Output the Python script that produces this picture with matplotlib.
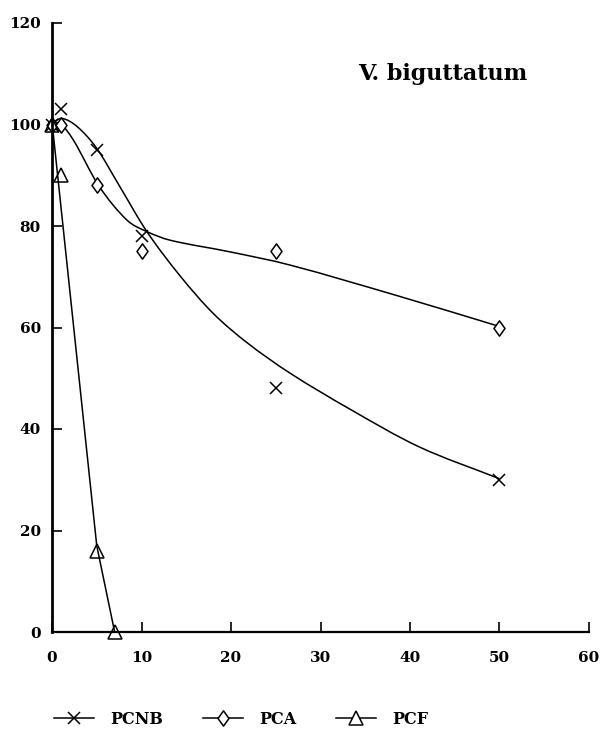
import numpy as np
import matplotlib
matplotlib.use("Agg")
import matplotlib.pyplot as plt
from matplotlib.path import Path
from matplotlib.patches import PathPatch
from matplotlib.lines import Line2D

# observed data points
pcnb_x = [0, 1, 5, 10, 25, 50]
pcnb_y = [100, 103, 95, 78, 48, 30]
pca_x = [0, 1, 5, 10, 25, 50]
pca_y = [100, 100, 88, 75, 75, 60]
pcf_x = [0, 1, 5, 7]
pcf_y = [100, 90, 16, 0]

# fitted curves
pcnb_fit_x = [0, 1.1, 2.8, 5, 7.5, 10.6, 14.3, 18, 21.8, 26.6, 33.3, 41, 50]
pcnb_fit_y = [100.3, 101.2, 99.6, 95.3, 88, 78.9, 70.2, 62.8, 57, 51, 43.9, 36.5, 30.2]
pca_fit_x = [0, 0.9, 2.4, 5.2, 8.35, 10.6, 13.2, 19.9, 26.6, 38.9, 50]
pca_fit_y = [100, 100.2, 96.9, 88, 81.2, 78.9, 77.2, 74.9, 72.3, 66.1, 60.2]
pcf_fit_x = [0, 5, 7]
pcf_fit_y = [100.5, 17, 0]

x_ticks = [0, 10, 20, 30, 40, 50, 60]
y_ticks = [0, 20, 40, 60, 80, 100, 120]
title = "V. biguttatum"
labels = ["PCNB", "PCA", "PCF"]

FONT = "DejaVu Serif"

fig = plt.figure(figsize=(6.01, 7.31), dpi=100)
ax = fig.add_axes([52 / 601, 1 - 632 / 731, (589 - 52) / 601, (632 - 23) / 731])


def hermite_path(xs, ys):
    x = np.asarray(xs, float)
    y = np.asarray(ys, float)
    n = len(x)
    m = np.empty(n)
    m[0] = (y[1] - y[0]) / (x[1] - x[0])
    m[-1] = (y[-1] - y[-2]) / (x[-1] - x[-2])
    for i in range(1, n - 1):
        m[i] = (y[i + 1] - y[i - 1]) / (x[i + 1] - x[i - 1])
    verts = [(x[0], y[0])]
    codes = [Path.MOVETO]
    for i in range(n - 1):
        h = x[i + 1] - x[i]
        verts += [(x[i] + h / 3, y[i] + m[i] * h / 3),
                  (x[i + 1] - h / 3, y[i + 1] - m[i + 1] * h / 3),
                  (x[i + 1], y[i + 1])]
        codes += [Path.CURVE4] * 3
    return Path(verts, codes)


for fx, fy in [(pcnb_fit_x, pcnb_fit_y), (pca_fit_x, pca_fit_y)]:
    ax.add_patch(PathPatch(hermite_path(fx, fy), facecolor="none", edgecolor="black", lw=1.1))
ax.plot(pcf_fit_x, pcf_fit_y, color="black", lw=1.1)

diamond = Path([(0, 1), (0.72, 0), (0, -1), (-0.72, 0), (0, 1)],
               [Path.MOVETO, Path.LINETO, Path.LINETO, Path.LINETO, Path.CLOSEPOLY])

ax.plot(pcnb_x, pcnb_y, ls="none", marker="x", ms=9, mew=1.1, color="black", clip_on=False)
ax.plot(pca_x, pca_y, ls="none", marker=diamond, ms=11, mew=1.1, mfc="white", mec="black", clip_on=False)
ax.plot(pcf_x, pcf_y, ls="none", marker="^", ms=10, mew=1.1, mfc="none", mec="black", clip_on=False)

ax.set_xlim(0, 60)
ax.set_ylim(0, 120)
ax.set_xticks(x_ticks)
ax.set_yticks(y_ticks)
ax.set_xticklabels([str(t) for t in x_ticks], fontfamily=FONT, fontweight="bold", fontsize=11)
ax.set_yticklabels([str(t) for t in y_ticks], fontfamily=FONT, fontweight="bold", fontsize=11)
ax.tick_params(axis="both", direction="in", length=7, width=1.2)
ax.tick_params(axis="x", pad=14)
ax.tick_params(axis="y", pad=8)
for s in ["top", "right"]:
    ax.spines[s].set_visible(False)
ax.spines["left"].set_linewidth(2)
ax.spines["bottom"].set_linewidth(1.6)

ax.text(0.570, 0.916, title, transform=ax.transAxes, fontfamily=FONT, fontweight="bold",
        fontsize=16, ha="left", va="center")

handles = [
    Line2D([], [], color="black", lw=1.1, marker="x", ms=9, mew=1.1),
    Line2D([], [], color="black", lw=1.1, marker=diamond, ms=11, mew=1.1, mfc="white"),
    Line2D([], [], color="black", lw=1.1, marker="^", ms=10, mew=1.1, mfc="white"),
]
leg = fig.legend(handles, labels, loc="center left",
                 bbox_to_anchor=(40 / 601, 1 - 719 / 731), ncol=3, frameon=False,
                 handlelength=2.5, handletextpad=1.0, columnspacing=2.5,
                 prop={"family": FONT, "weight": "bold", "size": 11.5})

fig.savefig("out.png", dpi=100)
